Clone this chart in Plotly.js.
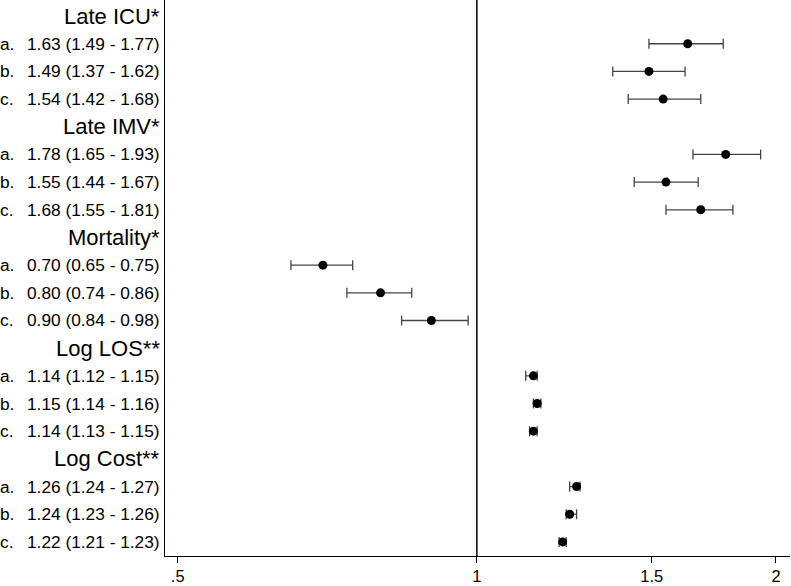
<!DOCTYPE html>
<html>
<head>
<meta charset="utf-8">
<script src="https://cdn.plot.ly/plotly-3.0.1.min.js"></script>
<style>
  html, body { margin: 0; padding: 0; background: #fff; }
  #plot { width: 791px; height: 586px; }
</style>
</head>
<body>
<div id="plot"></div>
<script>
// forest plot: odds ratios per outcome, three models each
const groups = ['Late ICU*', 'Late IMV*', 'Mortality*', 'Log LOS**', 'Log Cost**'];
const models = ['a.', 'b.', 'c.'];
const estimates = [[1.63, 1.49, 1.54], [1.78, 1.55, 1.68], [0.70, 0.80, 0.90], [1.14, 1.15, 1.14], [1.26, 1.24, 1.22]];
const lowers    = [[1.49, 1.37, 1.42], [1.65, 1.44, 1.55], [0.65, 0.74, 0.84], [1.12, 1.14, 1.13], [1.24, 1.23, 1.21]];
const uppers    = [[1.77, 1.62, 1.68], [1.93, 1.67, 1.81], [0.75, 0.86, 0.98], [1.15, 1.16, 1.15], [1.27, 1.26, 1.23]];
const xTicks = [0.5, 1, 1.5, 2];
const xTickText = ['.5', '1', '1.5', '2'];

const FONT = 'Liberation Sans, Arial, sans-serif';
const ys = [], xs = [], em = [], ep = [];
const annotations = [];
let row = 0;
groups.forEach((g, gi) => {
    annotations.push({ xref: 'paper', yref: 'y', x: -0.005, y: row, text: g, showarrow: false,
        xanchor: 'right', yanchor: 'middle', font: { family: FONT, size: 22, color: '#000' } });
    row++;
    models.forEach((m, mi) => {
        const e = estimates[gi][mi], lo = lowers[gi][mi], hi = uppers[gi][mi];
        xs.push(e); ys.push(row); em.push(e - lo); ep.push(hi - e);
        annotations.push({ xref: 'paper', yref: 'y', x: -0.005, y: row,
            text: `${e.toFixed(2)} (${lo.toFixed(2)} - ${hi.toFixed(2)})`, showarrow: false,
            xanchor: 'right', yanchor: 'middle', font: { family: FONT, size: 17.3, color: '#000' } });
        annotations.push({ xref: 'paper', yref: 'y', x: -0.267, y: row, text: m, showarrow: false,
            xanchor: 'left', yanchor: 'middle', font: { family: FONT, size: 17.3, color: '#000' } });
        row++;
    });
});

const trace = {
    x: xs, y: ys, type: 'scatter', mode: 'markers',
    marker: { size: 9, color: '#000' },
    error_x: { type: 'data', symmetric: false, array: ep, arrayminus: em, color: '#444', thickness: 1.3, width: 5 },
    hoverinfo: 'skip', showlegend: false
};

const layout = {
    width: 791, height: 586,
    margin: { l: 165, r: 1, t: 0, b: 30 },
    paper_bgcolor: '#fff', plot_bgcolor: '#fff',
    font: { family: FONT, size: 16, color: '#000' },
    xaxis: {
        type: 'log', range: [Math.log10(0.4855), Math.log10(2.066)],
        tickvals: xTicks, ticktext: xTickText, ticks: 'outside', ticklen: 6, tickcolor: '#000', tickwidth: 1,
        ticklabelstandoff: -1,
        showline: true, linecolor: '#000', linewidth: 1, showgrid: false, zeroline: false,
        tickfont: { family: FONT, size: 16.5, color: '#000' }
    },
    yaxis: {
        range: [19.51, -0.58], showticklabels: false, ticks: '', showgrid: false, zeroline: false,
        showline: true, linecolor: '#000', linewidth: 1
    },
    shapes: [{ type: 'line', xref: 'x', yref: 'paper', x0: 1, x1: 1, y0: 0, y1: 1, line: { color: '#000', width: 1.5 } }],
    annotations: annotations
};

Plotly.newPlot('plot', [trace], layout, { displayModeBar: false, staticPlot: true });
</script>
</body>
</html>
